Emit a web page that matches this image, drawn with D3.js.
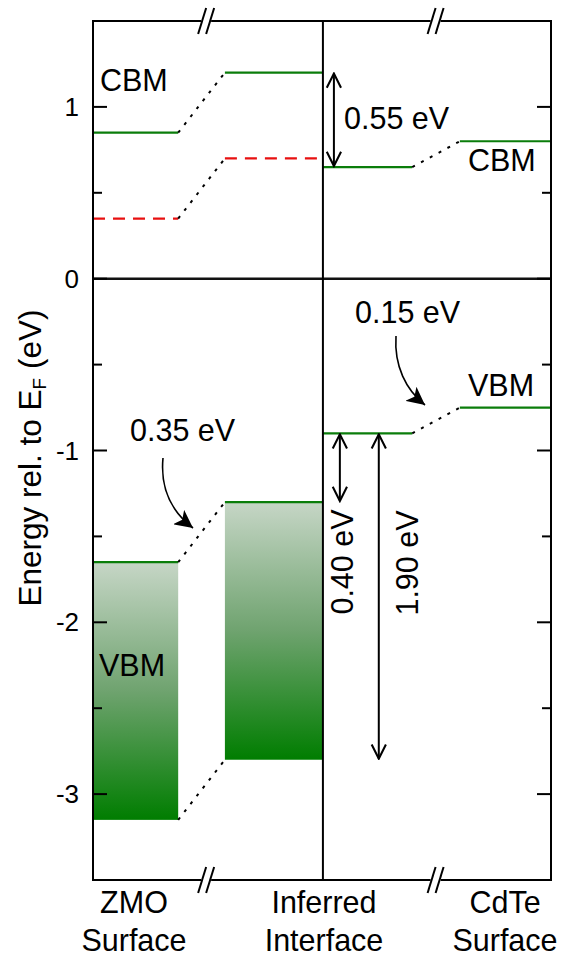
<!DOCTYPE html>
<html><head><meta charset="utf-8">
<script src="https://cdn.jsdelivr.net/npm/d3@7"></script>
<style>body{margin:0;background:#fff}svg{display:block}text{font-family:"Liberation Sans",Arial,sans-serif;fill:#000}</style>
</head><body><svg id="c" width="561" height="957"></svg>
<script>
// ---- data ----
const yTicks = [-3, -2, -1, 0, 1];
const yMinorTicks = [-3.5, -2.5, -1.5, -0.5, 0.5, 1.5];
const columns = ["ZMO\nSurface", "Inferred\nInterface", "CdTe\nSurface"];
// segment positions along the (broken) x axis, in arbitrary units 0..100
const segX = {zmo:[0,18.6], link1:[18.6,28.8], iface:[28.8,50.2], cdIf:[50.2,69.7], link2:[69.7,80.1], cd:[80.1,100]};
const cbmLevels = [ {seg:"zmo", e:0.85}, {seg:"iface", e:1.2}, {seg:"cdIf", e:0.65}, {seg:"cd", e:0.8} ];
const redLevels = [ {seg:"zmo", e:0.35}, {seg:"iface", e:0.7} ];
const vbmLevels = [ {seg:"cdIf", e:-0.9}, {seg:"cd", e:-0.75} ];
const vbBoxes = [ {seg:"zmo", top:-1.65, bottom:-3.15}, {seg:"iface", top:-1.3, bottom:-2.8} ];
const links = [ {seg:"link1", e0:0.85, e1:1.2}, {seg:"link1", e0:0.35, e1:0.7},
                {seg:"link1", e0:-1.65, e1:-1.3}, {seg:"link1", e0:-3.15, e1:-2.8},
                {seg:"link2", e0:0.65, e1:0.8}, {seg:"link2", e0:-0.9, e1:-0.75} ];
const gaps = [ {label:"0.55 eV", x:52.6, e0:1.2, e1:0.65},
               {label:"0.40 eV", x:53.9, e0:-0.9, e1:-1.3},
               {label:"1.90 eV", x:62.4, e0:-0.9, e1:-2.8} ];

// ---- layout ----
const L=93, R=551, T=21, B=880;
const svg = d3.select("#c");
const x = d3.scaleLinear().domain([0,100]).range([L,R]);
const y = d3.scaleLinear().domain([-3.5,1.5]).range([B,T]);
const green="#0a7d0a";

const defs = svg.append("defs");
const grad = defs.append("linearGradient").attr("id","vb").attr("x1",0).attr("y1",0).attr("x2",0).attr("y2",1);
grad.append("stop").attr("offset","0%").attr("stop-color","#c6d6c6");
grad.append("stop").attr("offset","50%").attr("stop-color","#6fa36f");
grad.append("stop").attr("offset","100%").attr("stop-color","#007d00");
defs.append("marker").attr("id","fh").attr("viewBox","0 0 10 10").attr("refX",10).attr("refY",5)
  .attr("markerWidth",18).attr("markerHeight",18).attr("markerUnits","userSpaceOnUse").attr("orient","auto")
  .append("path").attr("d","M0,0 L10,5 L0,10 L2.5,5 Z").attr("fill","#000");

// VB boxes
svg.selectAll(".vbbox").data(vbBoxes).join("rect")
  .attr("x",d=>x(segX[d.seg][0])).attr("width",d=>x(segX[d.seg][1])-x(segX[d.seg][0]))
  .attr("y",d=>y(d.top)).attr("height",d=>y(d.bottom)-y(d.top)).attr("fill","url(#vb)");
svg.selectAll(".vbtop").data(vbBoxes).join("line")
  .attr("x1",d=>x(segX[d.seg][0])).attr("x2",d=>x(segX[d.seg][1]))
  .attr("y1",d=>y(d.top)).attr("y2",d=>y(d.top)).attr("stroke",green).attr("stroke-width",2.2);

// zero line
svg.append("line").attr("x1",L).attr("x2",R).attr("y1",y(0)).attr("y2",y(0)).attr("stroke","#111").attr("stroke-width",2.5);

// levels
svg.selectAll(".cbm").data(cbmLevels.concat(vbmLevels)).join("line")
  .attr("x1",d=>x(segX[d.seg][0])).attr("x2",d=>x(segX[d.seg][1]))
  .attr("y1",d=>y(d.e)).attr("y2",d=>y(d.e)).attr("stroke",green).attr("stroke-width",2.2);
svg.selectAll(".red").data(redLevels).join("line")
  .attr("x1",d=>x(segX[d.seg][0])).attr("x2",d=>x(segX[d.seg][1]))
  .attr("y1",d=>y(d.e)).attr("y2",d=>y(d.e)).attr("stroke","#e81010").attr("stroke-width",2.2)
  .attr("stroke-dasharray","12,8");
svg.selectAll(".link").data(links).join("line")
  .attr("x1",d=>x(segX[d.seg][0])).attr("x2",d=>x(segX[d.seg][1]))
  .attr("y1",d=>y(d.e0)).attr("y2",d=>y(d.e1)).attr("stroke","#000").attr("stroke-width",2)
  .attr("stroke-dasharray","3,7");

// frame
svg.append("rect").attr("x",L).attr("y",T).attr("width",R-L).attr("height",B-T).attr("fill","none").attr("stroke","#000").attr("stroke-width",2);
svg.append("line").attr("x1",x(segX.iface[1])).attr("x2",x(segX.iface[1])).attr("y1",T).attr("y2",B).attr("stroke","#000").attr("stroke-width",2);

// ticks
[[L,1],[R,-1]].forEach(([x0,dir])=>{
  svg.selectAll(null).data(yTicks).join("line").attr("x1",x0).attr("x2",x0+dir*14)
    .attr("y1",d=>y(d)).attr("y2",d=>y(d)).attr("stroke","#000").attr("stroke-width",2);
  svg.selectAll(null).data(yMinorTicks).join("line").attr("x1",x0).attr("x2",x0+dir*9)
    .attr("y1",d=>y(d)).attr("y2",d=>y(d)).attr("stroke","#000").attr("stroke-width",2);
});
svg.selectAll(".tl").data(yTicks).join("text").attr("x",L-14).attr("y",d=>y(d)+9)
  .attr("text-anchor","end").attr("font-size",26).text(d=>d);

// axis breaks
const breaks=[(segX.link1[0]+segX.link1[1])/2+1, 74.8];
[T,B].forEach(yy=>{
  breaks.forEach(bx=>{
    const cx=x(bx);
    svg.append("rect").attr("x",cx-5).attr("y",yy-3).attr("width",10).attr("height",6).attr("fill","#fff");
    [-4,4].forEach(o=>svg.append("line").attr("x1",cx+o-4).attr("x2",cx+o+4).attr("y1",yy+13).attr("y2",yy-13)
      .attr("stroke","#000").attr("stroke-width",2));
  });
});

// double arrows
defs.append("marker").attr("id","oh").attr("viewBox","-1 -1 12 12").attr("refX",10).attr("refY",5)
  .attr("markerWidth",19).attr("markerHeight",19).attr("markerUnits","userSpaceOnUse").attr("orient","auto-start-reverse")
  .append("path").attr("d","M1,0.5 L10,5 L1,9.5").attr("fill","none").attr("stroke","#000").attr("stroke-width",1.3);
svg.selectAll(".gap").data(gaps).join("line")
  .attr("x1",d=>x(d.x)).attr("x2",d=>x(d.x)).attr("y1",d=>y(d.e0)+1).attr("y2",d=>y(d.e1)-1)
  .attr("stroke","#000").attr("stroke-width",2).attr("marker-start","url(#oh)").attr("marker-end","url(#oh)");

const fs=30.5;
// gap labels
svg.append("text").attr("x",344).attr("y",129).attr("font-size",fs).text(gaps[0].label);
svg.append("text").attr("transform","translate(353,562) rotate(-90)").attr("text-anchor","middle").attr("font-size",fs).text(gaps[1].label);
svg.append("text").attr("transform","translate(418,563) rotate(-90)").attr("text-anchor","middle").attr("font-size",fs).text(gaps[2].label);

// offset annotations with curved arrows
svg.append("text").attr("x",130).attr("y",441).attr("font-size",fs).text("0.35 eV");
svg.append("path").attr("d","M163,458 C160,490 172,512 193,528").attr("fill","none").attr("stroke","#000").attr("stroke-width",1.6).attr("marker-end","url(#fh)");
svg.append("text").attr("x",355).attr("y",323).attr("font-size",fs).text("0.15 eV");
svg.append("path").attr("d","M396,336 C394,366 406,390 425,405").attr("fill","none").attr("stroke","#000").attr("stroke-width",1.6).attr("marker-end","url(#fh)");

// band labels
svg.append("text").attr("x",100).attr("y",91).attr("font-size",fs).text("CBM");
svg.append("text").attr("x",468).attr("y",171).attr("font-size",fs).text("CBM");
svg.append("text").attr("x",99).attr("y",676).attr("font-size",fs).text("VBM");
svg.append("text").attr("x",468).attr("y",396).attr("font-size",fs).text("VBM");

// column labels
const colX=[134, 324, 505];
columns.forEach((c,i)=>{
  const t=svg.append("text").attr("x",colX[i]).attr("y",913).attr("text-anchor","middle").attr("font-size",fs);
  c.split("\n").forEach((s,j)=>t.append("tspan").attr("x",colX[i]).attr("dy",j?38:0).text(s));
});

// y label
const yl=svg.append("text").attr("transform",`translate(41,458) rotate(-90)`).attr("text-anchor","middle").attr("font-size",31.5);
yl.append("tspan").text("Energy rel. to E");
yl.append("tspan").attr("font-size",19).attr("dy",5).text("F");
yl.append("tspan").attr("dy",-5).text(" (eV)");
</script></body></html>
